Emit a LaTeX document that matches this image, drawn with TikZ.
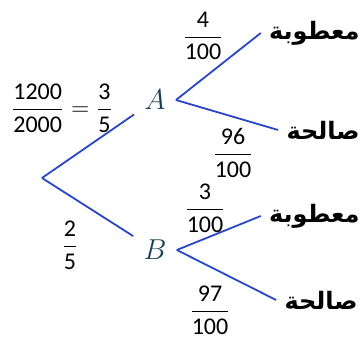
\documentclass[tikz,border=0pt]{standalone}
\usepackage{amsmath}
\usepackage{fontspec}
\setmainfont{Carlito}
\newfontfamily\arabicfont[Script=Arabic]{DejaVu Sans}
\TeXXeTstate=1
\definecolor{branchblue}{RGB}{40,70,200}
\definecolor{evtcol}{RGB}{25,65,90}
\newcommand{\fr}[2]{\(\dfrac{\text{#1}}{\text{#2}}\)}
\tikzset{
  branch/.style={branchblue,line width=0.9pt},
  evt/.style={text=evtcol,font=\Large,inner sep=5pt},
  leaf/.style={anchor=east,inner sep=4pt,font=\large\arabicfont\bfseries},
  prob/.style={font=\large,inner sep=1pt}
}
\begin{document}
\begin{tikzpicture}[x=0.5pt,y=-0.5pt]
\useasboundingbox (0,0) rectangle (361,341);
\coordinate (root) at (42,178);
\node[evt] (A) at (155,100) {\(A\)};
\node[evt] (B) at (155,250) {\(B\)};
\node[leaf] (Ad) at (368,33) {\beginR معطوبة\endR};
\node[leaf] (Ag) at (368,130) {\beginR صالحة\endR};
\node[leaf] (Bd) at (368,216) {\beginR معطوبة\endR};
\node[leaf] (Bg) at (366,300) {\beginR صالحة\endR};
\draw[branch] (root) -- (A);
\draw[branch] (root) -- (B);
\draw[branch] (A.east) -- (Ad.west);
\draw[branch] (A.east) -- (Ag.west);
\draw[branch] (B.east) -- (Bd.west);
\draw[branch] (B.east) -- (Bg.west);
% probabilities
\node[prob] (pA) at (62,108) {\(\dfrac{\text{1200}}{\text{2000}}=\dfrac{\text{3}}{\text{5}}\)};
\node[prob] (pB) at (70,245) {\fr{2}{5}};
\node[prob] (pAd) at (203,36) {\fr{4}{100}};
\node[prob] (pAg) at (233,153) {\fr{96}{100}};
\node[prob] (pBd) at (205,208) {\fr{3}{100}};
\node[prob] (pBg) at (210,310) {\fr{97}{100}};
\end{tikzpicture}
\end{document}
